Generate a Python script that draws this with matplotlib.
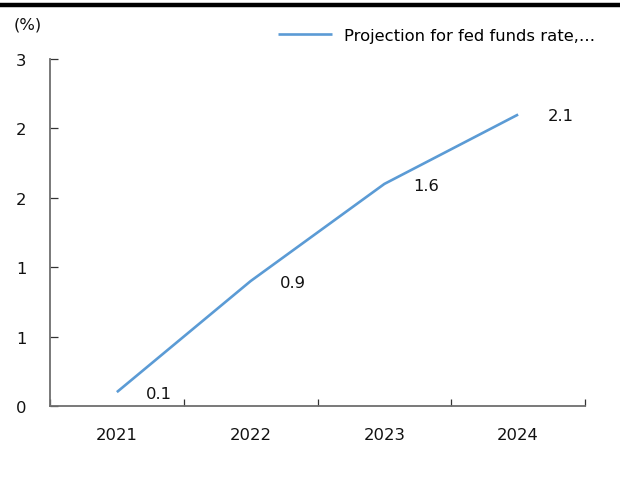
import numpy as np
import matplotlib
matplotlib.use("Agg")
from matplotlib import pyplot as plt
from matplotlib.lines import Line2D
from matplotlib.ticker import FuncFormatter, FixedLocator

years = ["2021", "2022", "2023", "2024"]
rate = [0.1, 0.9, 1.6, 2.1]
rate_labels = ["0.1", "0.9", "1.6", "2.1"]
y_ticks = [0, 0.5, 1.0, 1.5, 2.0, 2.5]
legend_label = "Projection for fed funds rate,\u2026"

plt.rcParams["font.family"] = ["DejaVu Sans"]
plt.rcParams["font.size"] = 11.8

fig = plt.figure(figsize=(6.2, 4.85), dpi=100)
ax = fig.add_axes([50/620, 1-407/485, 535/620, 347/485])

x = np.arange(len(years))
line, = ax.plot(x, rate, color="#5b9bd5", lw=1.9, solid_capstyle="butt")
for xi, yi, lab in zip(x, rate, rate_labels):
    ax.annotate(lab, (xi, yi), xytext=(21, -1), textcoords="offset points",
                ha="left", va="center", color="#111111")

ax.set_xlim(-0.5, len(years) - 0.5)
ax.set_ylim(0, 2.5)
ax.set_yticks(y_ticks)
ax.yaxis.set_major_formatter(FuncFormatter(lambda v, p: str(int(np.floor(v + 0.5 + 1e-9)))))
ax.set_xticks(x)
ax.set_xticklabels(years)
ax.xaxis.set_minor_locator(FixedLocator(np.arange(-0.5, len(years), 1.0)))

for s in ["top", "right"]:
    ax.spines[s].set_visible(False)
for s in ["left", "bottom"]:
    ax.spines[s].set_color("#6e6e6e")
    ax.spines[s].set_linewidth(1.3)

ax.tick_params(axis="y", direction="in", length=6, width=0.9, color="#333333", pad=17, labelcolor="#111111")
ax.tick_params(axis="x", which="major", length=0, pad=15, labelcolor="#111111")
ax.tick_params(axis="x", which="minor", direction="in", length=5, width=0.9, color="#333333")

leg = fig.legend([line], [legend_label], loc="upper right", bbox_to_anchor=(595/620, 1-29/485),
                 frameon=False, handlelength=3.3, handletextpad=0.7,
                 borderaxespad=0, borderpad=0)

fig.text(28/620, 1-25/485, "(%)", ha="center", va="center", color="#111111")
fig.add_artist(Line2D([0, 1], [1-5.5/485, 1-5.5/485], transform=fig.transFigure,
                      color="black", lw=3.2))

fig.savefig("out.png", dpi=100)
